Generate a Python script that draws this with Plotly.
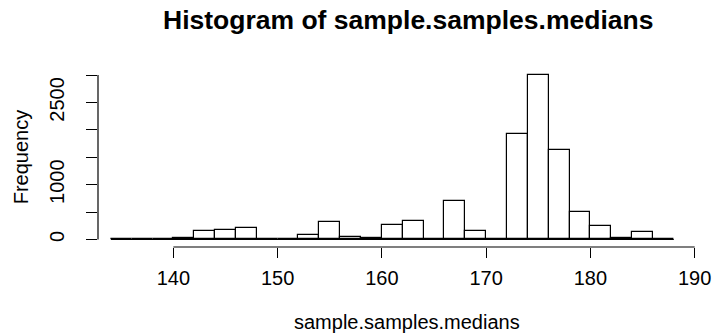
import plotly.graph_objects as go

# Histogram data (bins of width 2 starting at 134)
breaks = list(range(134, 190, 2))  # left edges 134..188 (last is right edge)
counts = [3, 8, 15, 30, 150, 170, 205, 0, 2, 90, 310, 45, 30, 260, 345, 10,
          705, 150, 8, 1930, 3005, 1640, 510, 245, 25, 145, 5]
x_ticks = [140, 150, 160, 170, 180, 190]
y_ticks = [0, 500, 1000, 1500, 2000, 2500, 3000]
y_ticktext = ["0", "", "1000", "", "", "2500", ""]

bin_w = breaks[1] - breaks[0]
centers = [b + bin_w / 2 for b in breaks[:len(counts)]]
edges = [breaks[0], breaks[0] + bin_w * len(counts)]

FONT = "Liberation Sans, Arial, Helvetica, sans-serif"
L, R, T, B = 98, 13, 60, 89
W, H = 723, 336
PW, PH = W - L - R, H - T - B

def px(xp):
    return (xp - L) / PW

def py(yp):
    return 1 - (yp - T) / PH

fig = go.Figure()
fig.add_trace(go.Scatter(x=edges, y=[0, 0], mode="lines",
                         line=dict(color="black", width=1.2),
                         showlegend=False, hoverinfo="skip"))
fig.add_trace(go.Bar(x=centers, y=counts, width=bin_w,
                     marker=dict(color="white", line=dict(color="black", width=1.2)),
                     showlegend=False))

fig.update_layout(
    width=W, height=H,
    margin=dict(l=L, r=R, t=T, b=B, pad=0),
    paper_bgcolor="white", plot_bgcolor="white",
    font=dict(family=FONT, size=20, color="black"),
    bargap=0,
    xaxis=dict(range=[132.77, 190.51], tickvals=x_ticks, ticktext=[str(v) for v in x_ticks],
               ticks="outside", ticklen=10, tickwidth=1.2, tickcolor="black",
               showline=False, showgrid=False, zeroline=False,
               ticklabelstandoff=3, tickfont=dict(size=20)),
    yaxis=dict(range=[-137, 3274], tickvals=y_ticks, ticktext=y_ticktext,
               ticks="outside", ticklen=11, tickwidth=1.2, tickcolor="black",
               showline=False, showgrid=False, zeroline=False, tickangle=-90,
               ticklabelstandoff=14, tickfont=dict(size=20)),
    shapes=[
        dict(type="line", xref="x", yref="paper", x0=x_ticks[0], x1=x_ticks[-1], y0=0, y1=0,
             line=dict(color="black", width=1.2)),
        dict(type="line", xref="paper", yref="y", x0=0, x1=0, y0=y_ticks[0], y1=y_ticks[-1],
             line=dict(color="black", width=1.2)),
    ],
    annotations=[
        dict(text="Histogram of sample.samples.medians", xref="paper", yref="paper",
             x=px(413), y=py(20), xanchor="center", yanchor="middle", showarrow=False,
             font=dict(size=26.5, weight="bold", family=FONT)),
        dict(text="sample.samples.medians", xref="paper", yref="paper",
             x=px(412), y=py(322), xanchor="center", yanchor="middle", showarrow=False,
             font=dict(size=20, family=FONT)),
        dict(text="Frequency", xref="paper", yref="paper", textangle=-90,
             x=px(20), y=py(157), xanchor="center", yanchor="middle", showarrow=False,
             font=dict(size=20, family=FONT)),
    ],
)

fig.write_html("out.html")
